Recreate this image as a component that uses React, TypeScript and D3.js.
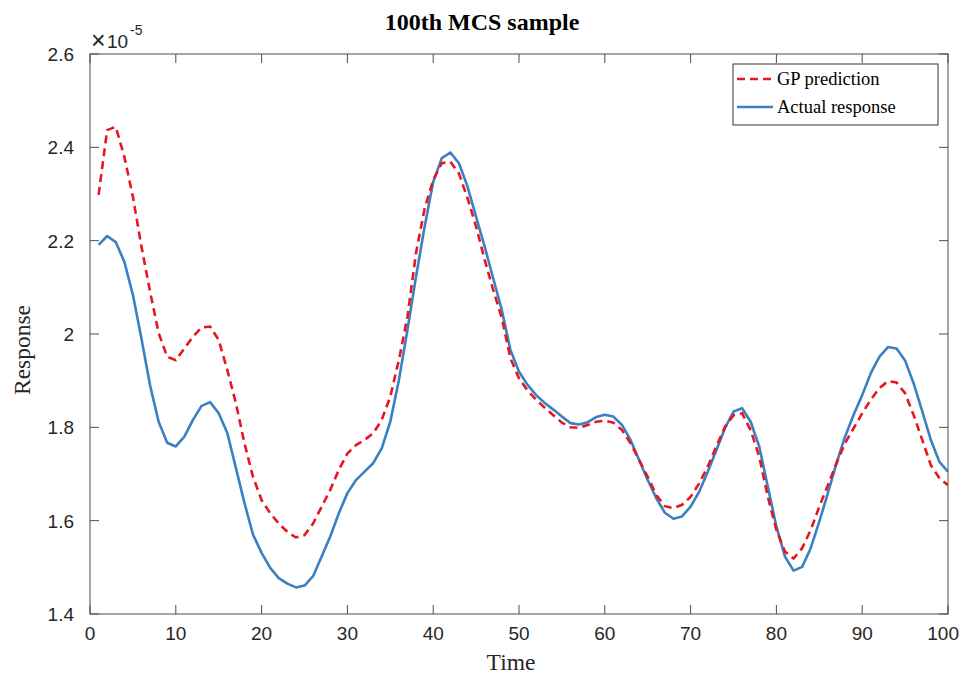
import React from "react";
import * as d3 from "d3";

const actual: number[] = [
  2.191, 2.21, 2.197, 2.155, 2.084, 1.99, 1.89, 1.812, 1.767, 1.759,
  1.78, 1.816, 1.846, 1.854, 1.83, 1.788, 1.713, 1.638, 1.57, 1.531,
  1.499, 1.477, 1.465, 1.457, 1.461, 1.481, 1.523, 1.566, 1.616, 1.659,
  1.687, 1.705, 1.723, 1.755, 1.812, 1.901, 2.009, 2.123, 2.23, 2.326,
  2.377, 2.389, 2.366, 2.316, 2.251, 2.187, 2.119, 2.051, 1.966, 1.919,
  1.891, 1.869, 1.852, 1.838, 1.823, 1.809, 1.806, 1.811, 1.822, 1.827,
  1.823, 1.805, 1.773, 1.73, 1.687, 1.648, 1.617, 1.604, 1.609, 1.63,
  1.662, 1.705, 1.751, 1.798, 1.834, 1.841, 1.812, 1.759, 1.673, 1.587,
  1.523, 1.493, 1.501, 1.541, 1.598, 1.659, 1.723, 1.78, 1.827, 1.869,
  1.916, 1.951, 1.972, 1.969, 1.943, 1.894, 1.834, 1.773, 1.726, 1.705,
];

const gp: number[] = [
  2.298, 2.437, 2.444, 2.38, 2.294, 2.187, 2.091, 2.002, 1.951, 1.944,
  1.969, 1.994, 2.014, 2.016, 1.987, 1.923, 1.852, 1.766, 1.694, 1.644,
  1.616, 1.594, 1.576, 1.564, 1.569, 1.594, 1.63, 1.666, 1.709, 1.744,
  1.762, 1.773, 1.787, 1.816, 1.866, 1.944, 2.037, 2.174, 2.269, 2.33,
  2.366, 2.369, 2.344, 2.291, 2.23, 2.159, 2.094, 2.034, 1.948, 1.905,
  1.879, 1.859, 1.842, 1.826, 1.81, 1.8, 1.799, 1.805, 1.812, 1.814,
  1.81, 1.794, 1.766, 1.73, 1.694, 1.655, 1.631, 1.627, 1.634, 1.651,
  1.68, 1.716, 1.759, 1.801, 1.826, 1.83, 1.794, 1.737, 1.651, 1.58,
  1.534, 1.519, 1.541, 1.58, 1.63, 1.676, 1.723, 1.766, 1.798, 1.83,
  1.859, 1.884, 1.899, 1.896, 1.873, 1.826, 1.773, 1.719, 1.691, 1.676,
];

const xTicks: number[] = [0, 10, 20, 30, 40, 50, 60, 70, 80, 90, 100];
const yTicks: number[] = [1.4, 1.6, 1.8, 2.0, 2.2, 2.4, 2.6];
const yTickLabels: string[] = ["1.4", "1.6", "1.8", "2", "2.2", "2.4", "2.6"];

const title = "100th MCS sample";
const xLabel = "Time";
const yLabel = "Response";
const legendLabels: string[] = ["GP prediction", "Actual response"];

export default function App() {
  const W = 960;
  const H = 675;
  const left = 90;
  const right = 948;
  const top = 54;
  const bottom = 614;
  const x = d3.scaleLinear().domain([0, 100]).range([left, right]);
  const y = d3.scaleLinear().domain([1.4, 2.6]).range([bottom, top]);
  const line = d3
    .line<number>()
    .x((_, i) => x(i + 1))
    .y((d) => y(d));
  const red = "#e8161e";
  const blue = "#3a80c2";
  const axisColor = "#4d4d4d";
  const tickLen = 9;
  const sans = "'Liberation Sans', Arial, Helvetica, sans-serif";
  const serif = "'Liberation Serif', 'Times New Roman', serif";

  return (
    <svg
      width={W}
      height={H}
      style={{ position: "absolute", left: 0, top: 0, background: "#fff" }}
    >
      <rect x={0} y={0} width={W} height={H} fill="#fff" />
      <defs>
        <clipPath id="plotclip">
          <rect x={left} y={top} width={right - left} height={bottom - top} />
        </clipPath>
      </defs>
      {/* title */}
      <text
        x={482}
        y={30}
        textAnchor="middle"
        fontFamily={serif}
        fontWeight="bold"
        fontSize={24}
        fill="#000"
      >
        {title}
      </text>

      {/* lines */}
      <g clipPath="url(#plotclip)">
        <path
          d={line(actual) || ""}
          fill="none"
          stroke={blue}
          strokeWidth={2.6}
          strokeLinejoin="round"
        />
        <path
          d={line(gp) || ""}
          fill="none"
          stroke={red}
          strokeWidth={2.6}
          strokeDasharray="8,5"
        />
      </g>

      {/* axes box */}
      <rect
        x={left}
        y={top}
        width={right - left}
        height={bottom - top}
        fill="none"
        stroke={axisColor}
        strokeWidth={1}
      />
      {xTicks.map((t) => (
        <g key={"x" + t}>
          <line x1={x(t)} x2={x(t)} y1={bottom} y2={bottom - tickLen} stroke={axisColor} />
          <line x1={x(t)} x2={x(t)} y1={top} y2={top + tickLen} stroke={axisColor} />
          <text
            x={t === 100 ? 959 : x(t)}
            y={bottom + 26}
            textAnchor={t === 100 ? "end" : "middle"}
            fontFamily={sans}
            fontSize={19}
            fill="#262626"
          >
            {t}
          </text>
        </g>
      ))}
      {yTicks.map((t, i) => (
        <g key={"y" + t}>
          <line x1={left} x2={left + tickLen} y1={y(t)} y2={y(t)} stroke={axisColor} />
          <line x1={right} x2={right - tickLen} y1={y(t)} y2={y(t)} stroke={axisColor} />
          <text
            x={left - 16}
            y={y(t) + 7}
            textAnchor="end"
            fontFamily={sans}
            fontSize={19}
            fill="#262626"
          >
            {yTickLabels[i]}
          </text>
        </g>
      ))}

      {/* exponent */}
      <text x={91} y={49} fontFamily={sans} fontSize={25} fill="#262626">
        ×
      </text>
      <text x={107} y={48} fontFamily={sans} fontSize={19} fill="#262626">
        10
      </text>
      <text x={130} y={35} fontFamily={sans} fontSize={14} fill="#262626">
        -5
      </text>

      {/* axis labels */}
      <text
        x={511}
        y={670}
        textAnchor="middle"
        fontFamily={serif}
        fontSize={23.5}
        fill="#262626"
      >
        {xLabel}
      </text>
      <text
        transform={`translate(30, ${y(2.0) + 16}) rotate(-90)`}
        textAnchor="middle"
        fontFamily={serif}
        fontSize={23.5}
        fill="#262626"
      >
        {yLabel}
      </text>

      {/* legend */}
      <rect x={733} y={64} width={205} height={61} fill="#fff" stroke="#333" strokeWidth={1} />
      <line x1={737} x2={773} y1={79} y2={79} stroke={red} strokeWidth={2.6} strokeDasharray="8,5" />
      <line x1={737} x2={773} y1={107} y2={107} stroke={blue} strokeWidth={2.6} />
      <text x={777} y={85} fontFamily={serif} fontSize={18.5} fill="#000">
        {legendLabels[0]}
      </text>
      <text x={777} y={113} fontFamily={serif} fontSize={18.5} fill="#000">
        {legendLabels[1]}
      </text>
    </svg>
  );
}
